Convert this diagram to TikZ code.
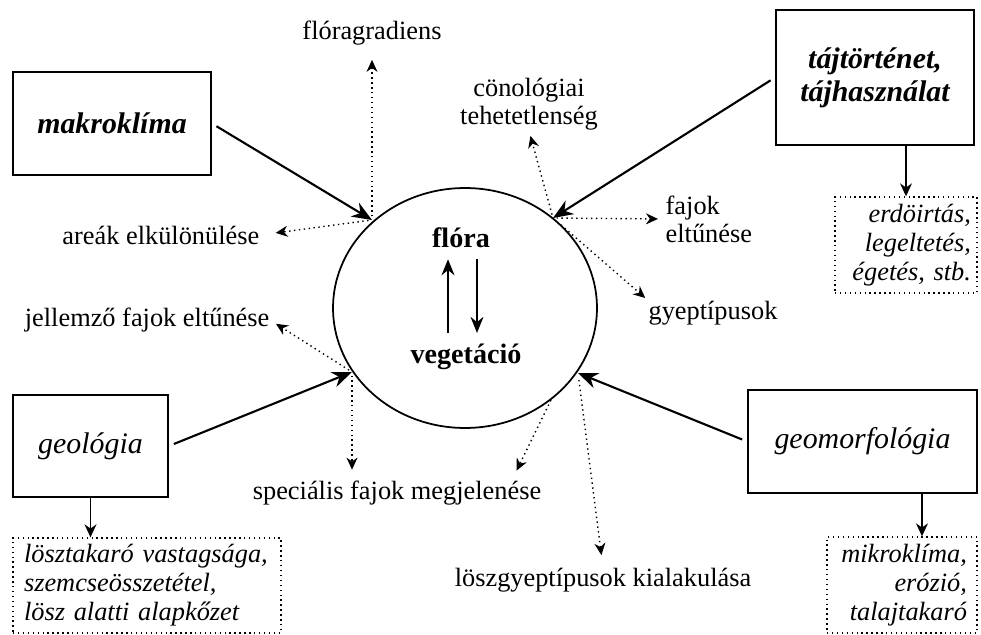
\documentclass[tikz,border=0pt]{standalone}
\usepackage{fontspec}
\setmainfont{Liberation Serif}
\usetikzlibrary{arrows.meta, shapes.geometric}

\begin{document}
\begin{tikzpicture}[x=0.02cm, y=-0.02cm, thick,
    every node/.style={font=\fontsize{15}{16}\selectfont, inner sep=0pt, align=center},
    factor/.style={draw, line width=1.1pt, font=\fontsize{17}{19}\selectfont\itshape},
    note/.style={draw, dotted, thick, font=\fontsize{15}{16.5}\selectfont\itshape},
    main/.style={-{Stealth[length=4mm, width=3.2mm]}, line width=1.2pt, shorten <=3pt},
    down/.style={-{Stealth[length=2.6mm, width=2.4mm]}, line width=0.8pt},
    effect/.style={dotted, thick, -{Stealth[length=2.4mm, width=2.2mm]}}]

    \useasboundingbox (0,0) rectangle (981,635);

    %Nodes
    \node (circ) [draw, ellipse, line width=1pt, minimum width=5.28cm, minimum height=4.8cm] at (465,308) {};
    \node (flora) [font=\fontsize{16}{18}\selectfont\bfseries] at (461,238) {flóra};
    \node (veget) [font=\fontsize{16}{18}\selectfont\bfseries] at (466,357) {vegetáció};

    \node (makro) [factor, font=\fontsize{17}{19}\selectfont\bfseries\itshape, minimum width=3.96cm, minimum height=2.06cm] at (112,123.5) {makroklíma};
    \node (taj) [factor, font=\fontsize{17}{19}\selectfont\bfseries\itshape, minimum width=3.96cm, minimum height=2.7cm] at (875,77.5) {tájtörténet,\\tájhasználat};
    \node (geol) [factor, minimum width=3.1cm, minimum height=2.04cm] at (90.5,446) {geológia};
    \node (geomorf) [factor, minimum width=4.58cm, minimum height=2.06cm] at (862.5,441.5) {geomorfológia};

    \node (noteE) [note, minimum width=2.84cm, minimum height=1.92cm, inner xsep=0.12cm, text width=2.6cm, align=right] at (906,245) {erdöirtás,\\legeltetés,\\égetés, stb.};
    \node (noteG) [note, minimum width=5.36cm, minimum height=1.9cm, inner xsep=0.22cm, text width=4.92cm, align=left] at (147,585.5) {lösztakaró vastagsága,\\szemcseösszetétel,\\lösz alatti alapkőzet};
    \node (noteM) [note, minimum width=3cm, minimum height=1.92cm, inner xsep=0.2cm, text width=2.6cm, align=right] at (902,585) {mikroklíma,\\erózió,\\talajtakaró};

    \node (grad) at (372,33) {flóragradiens};
    \node (areak) [anchor=east] at (260,235) {areák elkülönülése};
    \node (cono) at (529,104) {cönológiai\\tehetetlenség};
    \node (fajok) [anchor=west, align=left] at (665,219) {fajok\\eltűnése};
    \node (gyep) at (713,313) {gyeptípusok};
    \node (jell) [anchor=east] at (270,320) {jellemző fajok eltűnése};
    \node (spec) at (397,493) {speciális fajok megjelenése};
    \node (losz) at (603,580) {löszgyeptípusok kialakulása};

    \coordinate (jNW) at (372,220);
    \coordinate (jNE) at (553,218);
    \coordinate (jSW) at (352,372);
    \coordinate (jSE) at (578,373);

    % Edges
    \draw[main] (makro.east) -- (jNW);
    \draw[main] (taj.west) -- (jNE);
    \draw[main] (geol.east) -- (jSW);
    \draw[main] (geomorf.west) -- (jSE);

    \draw[down] (noteE.north |- taj.south) -- (noteE.north);
    \draw[down] (geol.south) -- (geol.south |- noteG.north);
    \draw[down] ([xshift=0.4cm]noteM.north |- geomorf.south) -- ([xshift=0.4cm]noteM.north);

    \draw[effect, shorten <=2pt, shorten >=8pt] (jNW) -- (grad.south);
    \draw[effect, shorten <=2pt, shorten >=9pt] (jNW) -- (areak.east);
    \draw[effect, shorten <=2pt, shorten >=3pt] (jNE) -- (cono.south);
    \draw[effect, shorten <=2pt, shorten >=4pt] (jNE) -- (fajok.west);
    \draw[effect, shorten <=6pt, shorten >=2pt] (jNE) -- (gyep.north west);
    \draw[effect, shorten <=2pt, shorten >=4pt] (jSW) -- (jell.east);
    \draw[effect, shorten <=2pt, shorten >=6pt] (jSW) -- (jSW |- spec.north);
    \draw[effect, shorten >=6pt] (circ.-47) -- ([xshift=-0.6cm]spec.north east);
    \draw[effect, shorten <=4pt, shorten >=7pt] (jSE) -- (losz.north);

    \draw[-{Stealth[length=3.2mm, width=2.6mm]}, line width=1pt, shorten <=6pt, shorten >=6pt]
        ([xshift=-0.36cm]veget.north) -- ([xshift=-0.36cm]veget.north |- flora.south);
    \draw[-{Stealth[length=3.2mm, width=2.6mm]}, line width=1pt, shorten <=6pt, shorten >=6pt]
        ([xshift=0.32cm]flora.south) -- ([xshift=0.32cm]flora.south |- veget.north);

\end{tikzpicture}
\end{document}
